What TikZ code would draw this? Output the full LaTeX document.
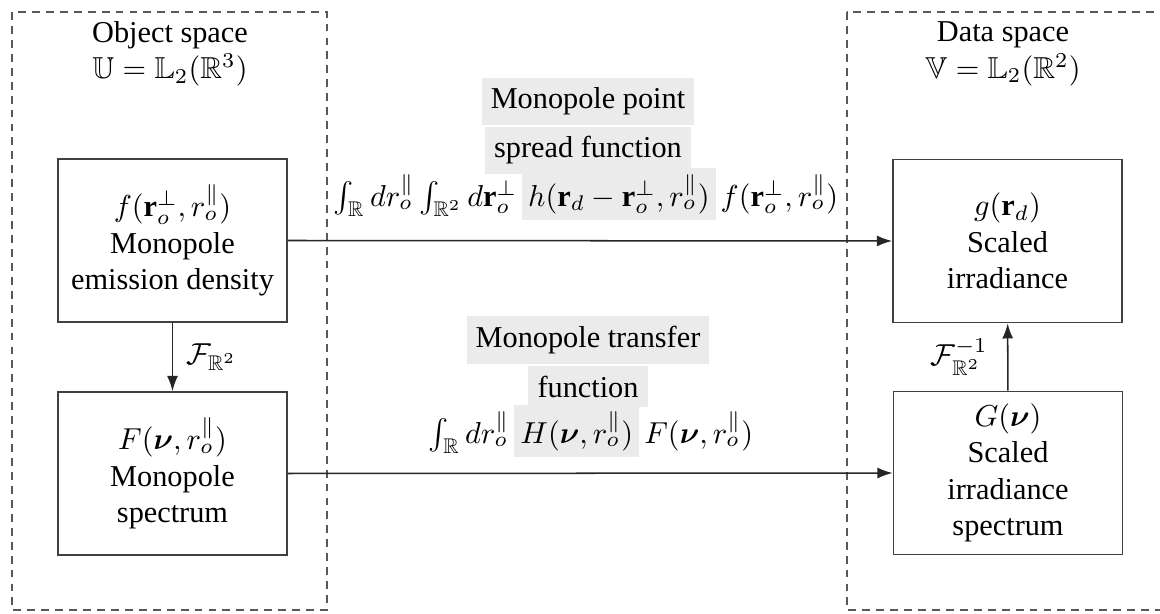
\documentclass[tikz,border=0pt]{standalone}
\usepackage{amsmath,amssymb,bm}
\usepackage{fontspec}
\setmainfont{Liberation Serif}
\usetikzlibrary{arrows.meta}
\begin{document}
\begin{tikzpicture}[x=0.33pt,y=-0.33pt,
  frame/.style={draw=black!65, line width=0.5pt, dash pattern=on 2.6pt off 2pt},
  blk/.style={draw=black!75, line width=0.55pt, minimum width=75.6pt, minimum height=53.8pt, align=center, inner sep=1pt},
  hl/.style={fill=black!8, inner xsep=3pt, inner ysep=3.2pt},
  conn/.style={draw=black!85, line width=0.5pt, -{Latex[length=5pt,width=3.6pt]}},
  lbl/.style={align=center, inner sep=1pt}
]
\setlength{\fboxsep}{2pt}
\clip (0,0) rectangle (1160,614);
\draw[frame] (12,12) rectangle (327,610);
\draw[frame] (847,12) rectangle (1190,610);

\node[lbl] (os) at (170,54) {Object space\\$\mathbb{U}=\mathbb{L}_2(\mathbb{R}^3)$};
\node[lbl] (ds) at (1003,54) {Data space\\$\mathbb{V}=\mathbb{L}_2(\mathbb{R}^2)$};

\node[blk] (f) at (172.5,240.5) {$f(\mathbf{r}_o^{\perp}, r_o^{\parallel})$\\Monopole\\emission density};
\node[blk] (F) at (172.5,473.5) {$F(\bm{\nu}, r_o^{\parallel})$\\Monopole\\spectrum};
\node[blk] (g) at (1007.5,241) {$g(\mathbf{r}_d)$\\Scaled\\irradiance};
\node[blk] (G) at (1008,473) {$G(\bm{\nu})$\\Scaled\\irradiance\\spectrum};

\draw[conn] (f) -- node[right=1pt] (l1) {$\mathcal{F}_{\mathbb{R}^2}$} (F);
\draw[conn] (G) -- node[left=3pt] (l2) {$\mathcal{F}^{-1}_{\mathbb{R}^2}$} (g);
\draw[conn] (f.east) -- (g.west);
\draw[conn] (F.east) -- (G.west);

\node[hl] (p1) at (588,101.5) {Monopole point};
\node[hl] (p2) at (588,150.5) {spread function};
\node[lbl] (pe) at (586,194) {$\int_{\mathbb{R}} dr_o^{\parallel} \int_{\mathbb{R}^2} d\mathbf{r}_o^{\perp}\,\colorbox{black!8}{$h(\mathbf{r}_d-\mathbf{r}_o^{\perp}, r_o^{\parallel})$}\,f(\mathbf{r}_o^{\perp}, r_o^{\parallel})$};

\node[hl] (t1) at (588,340) {Monopole transfer};
\node[hl] (t2) at (588,386.5) {function};
\node[lbl] (te) at (591,431) {$\int_{\mathbb{R}} dr_o^{\parallel}\,\colorbox{black!8}{$H(\bm{\nu}, r_o^{\parallel})$}\,F(\bm{\nu}, r_o^{\parallel})$};
\end{tikzpicture}
\end{document}
